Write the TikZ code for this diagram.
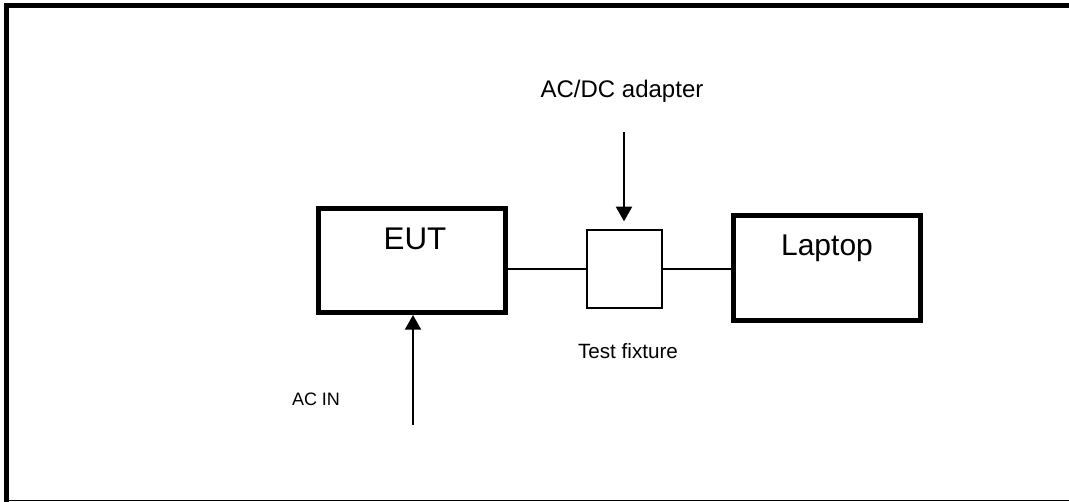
\documentclass[tikz,border=0pt]{standalone}
\usepackage{fontspec}
\setmainfont{Liberation Sans}
\usepackage{tikz}
\usetikzlibrary{
    positioning,
    arrows.meta,
    calc,
}
\tikzset{
    % Box styles
    box/.style={rectangle, draw, line width=3.75pt, inner sep=0pt},
    thin box/.style={rectangle, draw, line width=1pt, inner sep=0pt},
    % Text styles
    big text/.style={anchor=base, font=\fontsize{22.5}{27}\selectfont},
    mid text/.style={anchor=base, font=\fontsize{18}{21}\selectfont},
    small text/.style={anchor=base, font=\fontsize{13.5}{16}\selectfont},
    % Line styles
    wire/.style={line width=1pt},
    arrow/.style={-{Triangle[length=11pt, width=12pt]}, line width=1.5pt},
}

\begin{document}
\begin{tikzpicture}[x=0.75pt, y=-0.75pt]
    \useasboundingbox (0,0) rectangle (1069,502);

    % Frame
    \draw[line width=3.75pt] (6.5,502) -- (6.5,5.5) -- (1069,5.5);
    \draw[line width=1pt] (6.5,500.5) -- (1069,500.5);

    % Boxes
    \node[box, minimum width=140.25pt, minimum height=78pt] (eut) at (412, 260.5) {};
    \node[thin box, minimum width=56.25pt, minimum height=58.5pt] (fixture) at (624.5, 269) {};
    \node[box, minimum width=140.25pt, minimum height=78.75pt] (laptop) at (827, 268) {};

    % Labels
    \node[big text, font=\fontsize{23.5}{28}\selectfont] (eut text) at (415, 249) {EUT};
    \node[big text] (laptop text) at (827, 255) {Laptop};
    \node[mid text] (adapter text) at (622, 98) {AC/DC adapter};
    \node[small text, font=\fontsize{15.5}{18}\selectfont] (fixture text) at (628, 358) {Test fixture};
    \node[small text] (acin text) at (316, 405) {AC IN};

    % Wires
    \draw[wire] (fixture.west) -- (fixture.west -| eut.east);
    \draw[wire] (fixture.east) -- (fixture.east -| laptop.west);

    % Supply arrows
    \coordinate (adapter) at (624, 132);
    \coordinate (acin) at (413, 425);
    \draw[arrow, shorten >=6pt] (adapter) -- (adapter |- fixture.north);
    \draw[arrow] (acin) -- (acin |- eut.south);
\end{tikzpicture}
\end{document}
